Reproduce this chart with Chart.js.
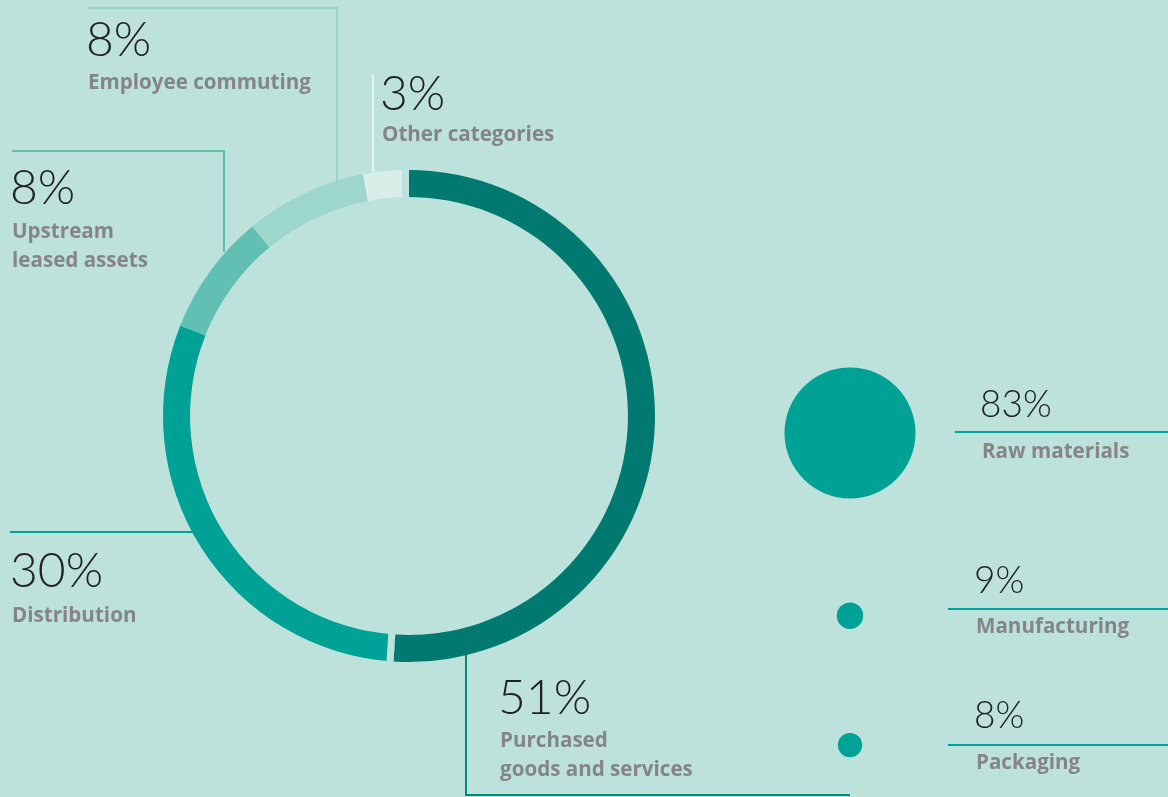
<!DOCTYPE html>
<html>
<head>
<meta charset="utf-8">
<script src="https://cdn.jsdelivr.net/npm/chart.js@4.4.1/dist/chart.umd.min.js"></script>
<style>
  html, body { margin: 0; padding: 0; }
  body { width: 1168px; height: 797px; background: #bde2db; position: relative; overflow: hidden; }
  canvas { position: absolute; }
  .pct { position: absolute; font-family: "Lato", "DejaVu Sans", sans-serif; font-weight: 300; font-size: 48px; line-height: 48px; color: #222; white-space: nowrap; }
  .pct.sm { font-size: 37px; line-height: 37px; }
  .lbl { position: absolute; font-family: "Open Sans", "Noto Sans", sans-serif; font-weight: 700; font-size: 20.6px; line-height: 29px; color: #858585; white-space: nowrap; }
  .ln { position: absolute; }
</style>
</head>
<body>
<canvas id="ring" width="1168" height="797" style="left:0;top:0"></canvas>
<canvas id="bubbles" width="180" height="797" style="left:760px;top:0"></canvas>

<!-- leader lines -->
<div class="ln" style="left:88px;top:7px;width:250px;height:2px;background:#9ad5ca"></div>
<div class="ln" style="left:336px;top:7px;width:2px;height:176px;background:#9ad5ca"></div>
<div class="ln" style="left:12px;top:150px;width:213px;height:2px;background:#5fbdb1"></div>
<div class="ln" style="left:223px;top:150px;width:2px;height:102px;background:#5fbdb1"></div>
<div class="ln" style="left:372px;top:74px;width:2px;height:98px;background:#e4f3f0"></div>
<div class="ln" style="left:10px;top:531px;width:183px;height:2px;background:#00a296"></div>
<div class="ln" style="left:465px;top:655px;width:2px;height:141px;background:#00897e"></div>
<div class="ln" style="left:465px;top:794px;width:385px;height:2px;background:#00897e"></div>
<div class="ln" style="left:955px;top:431px;width:213px;height:2px;background:#00a296"></div>
<div class="ln" style="left:948px;top:608px;width:220px;height:2px;background:#00a296"></div>
<div class="ln" style="left:948px;top:744px;width:220px;height:2px;background:#00a296"></div>

<!-- labels -->
<div class="pct" style="left:86px;top:14px">8%</div>
<div class="lbl" style="left:88px;top:67px">Employee commuting</div>
<div class="pct" style="left:380px;top:68px">3%</div>
<div class="lbl" style="left:382px;top:119px">Other categories</div>
<div class="pct" style="left:10px;top:162px">8%</div>
<div class="lbl" style="left:12px;top:216px">Upstream<br>leased assets</div>
<div class="pct" style="left:10px;top:545px">30%</div>
<div class="lbl" style="left:12px;top:600px">Distribution</div>
<div class="pct" style="left:498px;top:672px">51%</div>
<div class="lbl" style="left:500px;top:725px">Purchased<br>goods and services</div>
<div class="pct sm" style="left:980px;top:384px">83%</div>
<div class="lbl" style="left:982px;top:436px">Raw materials</div>
<div class="pct sm" style="left:974px;top:560px">9%</div>
<div class="lbl" style="left:976px;top:611px">Manufacturing</div>
<div class="pct sm" style="left:974px;top:695px">8%</div>
<div class="lbl" style="left:976px;top:747px">Packaging</div>

<script>
// Scope 3 emission categories (share of total, %)
const categories = ['Purchased goods and services', 'Distribution', 'Upstream leased assets', 'Employee commuting', 'Other categories'];
const shares = [51, 30, 8, 8, 3];
const ringColors = ['#007a70', '#00a296', '#62bfb3', '#9dd6cb', '#d7eee9'];

// Breakdown of purchased goods and services (%)
const breakdownLabels = ['Raw materials', 'Manufacturing', 'Packaging'];
const breakdownShares = [83, 9, 8];

const BG = '#bde2db';

// Cuts a background-coloured gap on both edges of the leading segment,
// eating into the neighbouring slices.
const segmentGaps = {
  id: 'segmentGaps',
  afterDatasetsDraw(chart) {
    const arc = chart.getDatasetMeta(0).data[0];
    if (!arc) return;
    const { x, y, startAngle, endAngle, innerRadius, outerRadius } = arc.getProps(['x', 'y', 'startAngle', 'endAngle', 'innerRadius', 'outerRadius'], true);
    const ctx = chart.ctx;
    const half = 3.5;
    const edge = (a, dir) => {
      const ux = Math.cos(a), uy = Math.sin(a);
      const tx = -uy * dir * half, ty = ux * dir * half;
      ctx.beginPath();
      ctx.moveTo(x + ux * (innerRadius - 2) + tx, y + uy * (innerRadius - 2) + ty);
      ctx.lineTo(x + ux * (outerRadius + 2) + tx, y + uy * (outerRadius + 2) + ty);
      ctx.stroke();
    };
    ctx.save();
    ctx.strokeStyle = BG;
    ctx.lineWidth = half * 2;
    edge(startAngle, -1);
    edge(endAngle, 1);
    ctx.restore();
  }
};

new Chart(document.getElementById('ring'), {
  type: 'doughnut',
  data: {
    labels: categories,
    datasets: [{ data: shares, backgroundColor: ringColors, borderWidth: 0 }]
  },
  options: {
    responsive: false,
    animation: false,
    events: [],
    cutout: '89%',
    layout: { padding: { left: 163, right: 513, top: 170, bottom: 135 } },
    plugins: { legend: { display: false }, tooltip: { enabled: false } }
  },
  plugins: [segmentGaps]
});

// Bubble size grows with share; rows are stacked so that each bubble
// keeps a constant clearance from the one above it.
const bubbleRadius = v => 65.5 * Math.pow(v / 83, 0.72);
const radii = breakdownShares.map(bubbleRadius);
const firstRowY = 433, rowClearance = 104;
const rowY = [];
radii.forEach((r, i) => {
  rowY.push(i === 0 ? firstRowY : rowY[i - 1] + radii[i - 1] + r + rowClearance);
});

new Chart(document.getElementById('bubbles'), {
  type: 'bubble',
  data: {
    labels: breakdownLabels,
    datasets: [{
      data: breakdownShares.map((v, i) => ({ x: 0, y: rowY[i], r: radii[i], share: v })),
      backgroundColor: '#00a296',
      borderWidth: 0,
      hoverRadius: 0,
      clip: false
    }]
  },
  options: {
    responsive: false,
    animation: false,
    events: [],
    layout: { padding: 0, autoPadding: false },
    scales: {
      x: { type: 'linear', min: -1, max: 1, display: false },
      y: { type: 'linear', min: 0, max: 797, reverse: true, display: false }
    },
    plugins: { legend: { display: false }, tooltip: { enabled: false } }
  }
});
</script>
</body>
</html>
